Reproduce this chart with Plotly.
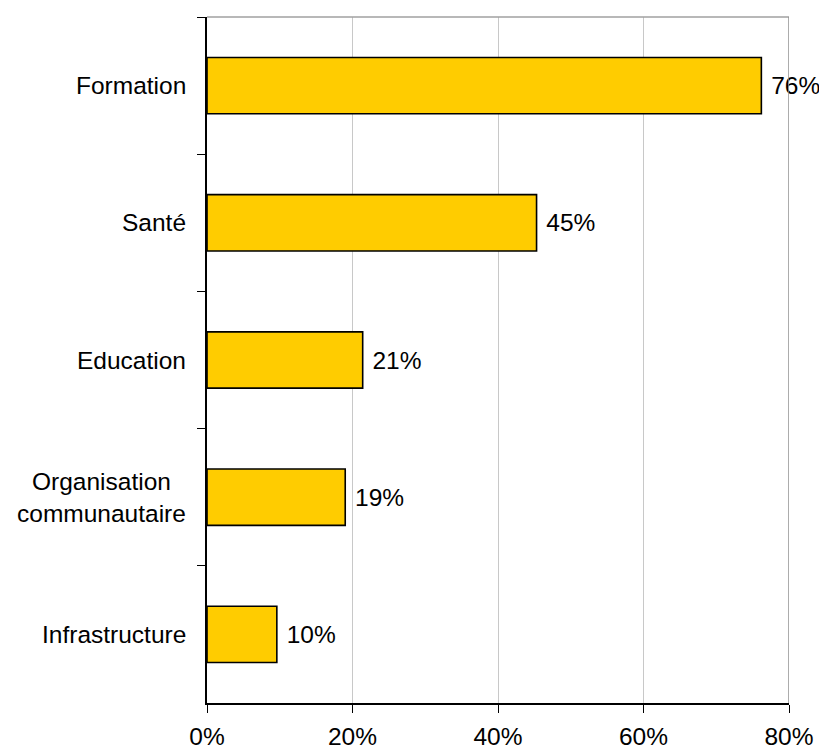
import plotly.graph_objects as go

# Domaines (du haut vers le bas) et part des réponses
categories = ["Formation", "Santé", "Education", "Organisation<br>communautaire", "Infrastructure"]
values = [0.762, 0.453, 0.214, 0.190, 0.096]
x_ticks = [0, 0.2, 0.4, 0.6, 0.8]
x_tick_labels = ["0%", "20%", "40%", "60%", "80%"]

FONT = "Liberation Sans, Arial, sans-serif"
FONT_SIZE = 24.5

fig = go.Figure(
    go.Bar(
        x=values,
        y=categories,
        orientation="h",
        width=0.41,
        marker=dict(color="#FFCC00", line=dict(color="#000000", width=1.6)),
        texttemplate=" %{x:.0%}",
        textposition="outside",
        textfont=dict(family=FONT, size=FONT_SIZE, color="#000000"),
        cliponaxis=False,
        hoverinfo="skip",
    )
)

# Category labels drawn as centred multi-line text beside the axis
for cat in categories:
    fig.add_annotation(
        x=0, xref="paper", y=cat, yref="y",
        text=cat, showarrow=False,
        xanchor="right", yanchor="middle", align="center",
        xshift=-19,
        font=dict(family=FONT, size=FONT_SIZE, color="#000000"),
    )

# Grey frame on the top and right sides of the plot area
fig.add_shape(type="line", xref="x", yref="paper", x0=0, x1=0.8, y0=1, y1=1,
              line=dict(color="#a0a0a0", width=1.5))
fig.add_shape(type="line", xref="x", yref="paper", x0=0.8, x1=0.8, y0=0, y1=1,
              line=dict(color="#909090", width=1.5))

fig.update_layout(
    width=819,
    height=751,
    margin=dict(l=207, r=30, t=17, b=48, autoexpand=False),
    paper_bgcolor="white",
    plot_bgcolor="white",
    showlegend=False,
    font=dict(family=FONT, size=FONT_SIZE, color="#000000"),
    xaxis=dict(
        range=[0, 0.8],
        tickvals=x_ticks,
        ticktext=x_tick_labels,
        automargin=False,
        showgrid=True,
        gridcolor="#c8c8c8",
        gridwidth=1,
        zeroline=False,
        showline=True,
        linecolor="#000000",
        linewidth=1.5,
        ticks="outside",
        ticklen=8,
        tickcolor="#000000",
        tickwidth=1,
        ticklabelstandoff=3,
        tickfont=dict(family=FONT, size=FONT_SIZE, color="#000000"),
        fixedrange=True,
    ),
    yaxis=dict(
        type="category",
        categoryorder="array",
        categoryarray=categories,
        autorange="reversed",
        automargin=False,
        showticklabels=False,
        tickson="boundaries",
        ticks="outside",
        ticklen=8,
        tickcolor="#000000",
        tickwidth=1,
        showgrid=False,
        zeroline=False,
        showline=True,
        linecolor="#000000",
        linewidth=1.5,
        fixedrange=True,
    ),
)

fig.write_html("out.html")
